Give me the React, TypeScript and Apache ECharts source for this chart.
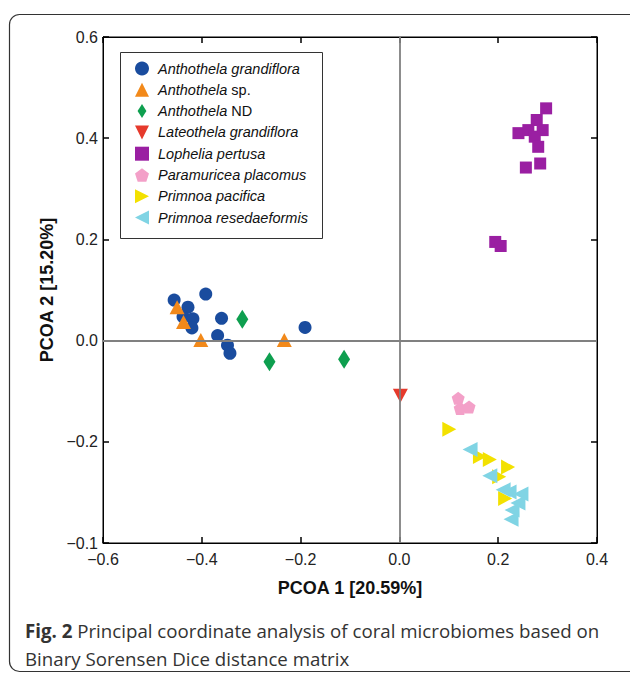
import React, { useEffect, useRef } from "react";
import * as echarts from "echarts";

// ---- data (PCoA coordinates) ----
const anthothelaGrandiflora: number[][] = [
  [-0.456, 0.080], [-0.392, 0.092], [-0.428, 0.066], [-0.438, 0.047], [-0.418, 0.043],
  [-0.420, 0.025], [-0.360, 0.044], [-0.368, 0.010], [-0.348, -0.009], [-0.343, -0.025],
  [-0.191, 0.026],
];
const anthothelaSp: number[][] = [
  [-0.450, 0.066], [-0.437, 0.037], [-0.402, 0.001], [-0.233, 0.001],
];
const anthothelaND: number[][] = [
  [-0.318, 0.042], [-0.263, -0.042], [-0.112, -0.037],
];
const lateothelaGrandiflora: number[][] = [[0.002, -0.109]];
const lopheliaPertusa: number[][] = [
  [0.297, 0.459], [0.278, 0.436], [0.241, 0.410], [0.261, 0.416], [0.290, 0.416],
  [0.274, 0.403], [0.281, 0.383], [0.285, 0.350], [0.256, 0.342], [0.194, 0.195],
  [0.205, 0.187],
];
const paramuriceaPlacomus: number[][] = [
  [0.119, -0.114], [0.123, -0.134], [0.141, -0.131],
];
const primnoaPacifica: number[][] = [
  [0.101, -0.175], [0.163, -0.229], [0.183, -0.235], [0.220, -0.250], [0.202, -0.269],
  [0.214, -0.312],
];
const primnoaResedaeformis: number[][] = [
  [0.143, -0.215], [0.183, -0.267], [0.210, -0.295], [0.222, -0.299], [0.246, -0.303],
  [0.240, -0.321], [0.228, -0.335], [0.226, -0.353],
];

const xTickValues = [-0.6, -0.4, -0.2, 0.0, 0.2, 0.4];
const xTickLabels = ["\u22120.6", "\u22120.4", "\u22120.2", "0.0", "0.2", "0.4"];
const yTickValues = [-0.4, -0.2, 0.0, 0.2, 0.4, 0.6];
const yTickLabels = ["\u22120.1", "\u22120.2", "0.0", "0.2", "0.4", "0.6"];

const xTitle = "PCOA 1 [20.59%]";
const yTitle = "PCOA 2 [15.20%]";
const captionBold = "Fig. 2";
const captionLine1 = " Principal coordinate analysis of coral microbiomes based on";
const captionLine2 = "Binary Sorensen Dice distance matrix";

const legendNames = [
  "Anthothela grandiflora", "Anthothela sp.", "Anthothela ND", "Lateothela grandiflora",
  "Lophelia pertusa", "Paramuricea placomus", "Primnoa pacifica", "Primnoa resedaeformis",
];
const legendRich: Record<string, string> = {
  "Anthothela grandiflora": "{i|Anthothela grandiflora}",
  "Anthothela sp.": "{i|Anthothela} sp.",
  "Anthothela ND": "{i|Anthothela} ND",
  "Lateothela grandiflora": "{i|Lateothela grandiflora}",
  "Lophelia pertusa": "{i|Lophelia pertusa}",
  "Paramuricea placomus": "{i|Paramuricea placomus}",
  "Primnoa pacifica": "{i|Primnoa pacifica}",
  "Primnoa resedaeformis": "{i|Primnoa resedaeformis}",
};

const PENTAGON = "path://M0,-1L0.951,-0.309L0.588,0.809L-0.588,0.809L-0.951,-0.309Z";
const TRI_UP = "path://M1,0L2,2L0,2Z";
const TRI_DOWN = "path://M0,0L2,0L1,2Z";
const TRI_RIGHT = "path://M0,0L2,1L0,2Z";
const TRI_LEFT = "path://M2,0L0,1L2,2Z";
const DIAMOND = "path://M6,0L12,9.5L6,19L0,9.5Z";
const SQUARE = "path://M0,0L12,0L12,12L0,12Z";
const CIRCLE = "circle";
const legendIcons = [CIRCLE, TRI_UP, DIAMOND, TRI_DOWN, SQUARE, PENTAGON, TRI_RIGHT, TRI_LEFT];

const FONT = "'Liberation Sans', Arial, sans-serif";

function pickLabel(values: number[], labels: string[], v: number) {
  let best = 0;
  for (let i = 0; i < values.length; i++) {
    if (Math.abs(values[i] - v) < Math.abs(values[best] - v)) best = i;
  }
  return labels[best];
}

export default function App() {
  const ref = useRef<HTMLDivElement>(null);
  useEffect(() => {
    if (!ref.current) return;
    const chart = echarts.init(ref.current, null, { renderer: "svg" });
    const sc = (name: string, data: number[][], symbol: string, size: any, color: string, rotate = 0) => ({
      name,
      type: "scatter",
      data,
      symbol,
      symbolSize: size,
      symbolRotate: rotate,
      itemStyle: { color, opacity: 1 },
      z: 3,
    });
    chart.setOption({
      animation: false,
      grid: {
        left: 103, right: 33, top: 37, bottom: 131,
        show: true, borderColor: "#000", borderWidth: 1, backgroundColor: "transparent",
      },
      xAxis: [
        {
          type: "value", min: -0.6, max: 0.4, interval: 0.2, position: "bottom",
          name: xTitle, nameLocation: "middle", nameGap: 36,
          nameTextStyle: { fontFamily: FONT, fontWeight: "bold", fontSize: 18, color: "#111" },
          axisLine: { show: true, onZero: false, lineStyle: { color: "#000", width: 1 } },
          axisTick: { show: true, inside: true, length: 6, lineStyle: { color: "#000", width: 1.5 } },
          axisLabel: {
            margin: 8, fontFamily: FONT, fontSize: 16, color: "#222",
            formatter: (v: number) => pickLabel(xTickValues, xTickLabels, v),
          },
          splitLine: { show: false },
        },
        {
          type: "value", min: -0.6, max: 0.4, interval: 0.2, position: "top",
          axisLine: { show: true, onZero: false, lineStyle: { color: "#000", width: 1 } },
          axisTick: { show: true, inside: true, length: 6, lineStyle: { color: "#000", width: 1.5 } },
          axisLabel: { show: false },
          splitLine: { show: false },
        },
      ],
      yAxis: [
        {
          type: "value", min: -0.4, max: 0.6, interval: 0.2, position: "left",
          name: yTitle, nameLocation: "middle", nameGap: 46, nameRotate: 90,
          nameTextStyle: { fontFamily: FONT, fontWeight: "bold", fontSize: 18, color: "#111" },
          axisLine: { show: true, onZero: false, lineStyle: { color: "#000", width: 1 } },
          axisTick: { show: true, inside: true, length: 6, lineStyle: { color: "#000", width: 1.5 } },
          axisLabel: {
            margin: 5, fontFamily: FONT, fontSize: 16, color: "#222",
            formatter: (v: number) => pickLabel(yTickValues, yTickLabels, v),
          },
          splitLine: { show: false },
        },
        {
          type: "value", min: -0.4, max: 0.6, interval: 0.2, position: "right",
          axisLine: { show: true, onZero: false, lineStyle: { color: "#000", width: 1 } },
          axisTick: { show: true, inside: true, length: 6, lineStyle: { color: "#000", width: 1.5 } },
          axisLabel: { show: false },
          splitLine: { show: false },
        },
      ],
      legend: {
        orient: "vertical",
        left: 135, top: 61,
        itemWidth: 14, itemHeight: 14, itemGap: 6.3,
        padding: 0,
        symbolKeepAspect: true,
        data: legendNames.map((n, i) => ({ name: n, icon: legendIcons[i] })),
        formatter: (name: string) => legendRich[name] || name,
        textStyle: {
          fontFamily: FONT, fontSize: 14.5, color: "#111", padding: [0, 0, 0, 4],
          rich: { i: { fontFamily: FONT, fontSize: 14.5, fontStyle: "italic", color: "#111" } },
        },
      },
      graphic: [
        {
          type: "rect", shape: { x: 9.5, y: 14.5, width: 640, height: 657, r: 10 },
          style: { fill: "none", stroke: "#333", lineWidth: 1.2 }, silent: true,
        },
        {
          type: "rect", shape: { x: 120.5, y: 52.5, width: 202, height: 186 },
          style: { fill: "#fff", stroke: "#333", lineWidth: 1 }, silent: true, z: 1,
        },
        {
          type: "text", left: 25, top: 616,
          style: {
            text: "{b|" + captionBold + "}" + captionLine1 + "\n" + captionLine2,
            fontFamily: "'Open Sans', sans-serif", fontSize: 18.7, lineHeight: 28, fill: "#333",
            rich: { b: { fontFamily: "'Open Sans', sans-serif", fontSize: 18.7, fontWeight: "bold", fill: "#333", lineHeight: 28 } },
          },
          silent: true,
        },
      ],
      series: [
        {
          type: "scatter", data: [], z: 2, silent: true,
          markLine: {
            silent: true, symbol: "none", animation: false,
            label: { show: false },
            lineStyle: { color: "#808080", width: 1.8, type: "solid" },
            emphasis: { disabled: true },
            data: [{ xAxis: 0 }, { yAxis: 0 }],
          },
        },
        sc("Anthothela grandiflora", anthothelaGrandiflora, "circle", 13, "#1a4c9e"),
        sc("Anthothela sp.", anthothelaSp, "triangle", [15, 14], "#f2891a"),
        sc("Anthothela ND", anthothelaND, "diamond", [12, 19], "#0e9f4f"),
        sc("Lateothela grandiflora", lateothelaGrandiflora, "triangle", [15, 14], "#e63a2c", 180),
        sc("Lophelia pertusa", lopheliaPertusa, "rect", 12, "#9a1fa2"),
        sc("Paramuricea placomus", paramuriceaPlacomus, PENTAGON, 13, "#f3a0c8"),
        sc("Primnoa pacifica", primnoaPacifica, "triangle", [15, 14], "#f3e100", -90),
        sc("Primnoa resedaeformis", primnoaResedaeformis, "triangle", [15, 15], "#80d4e4", 90),
      ],
    });
    return () => chart.dispose();
  }, []);
  return (
    <div
      ref={ref}
      style={{ position: "absolute", left: 0, top: 0, width: 630, height: 674, background: "#fff" }}
    />
  );
}
